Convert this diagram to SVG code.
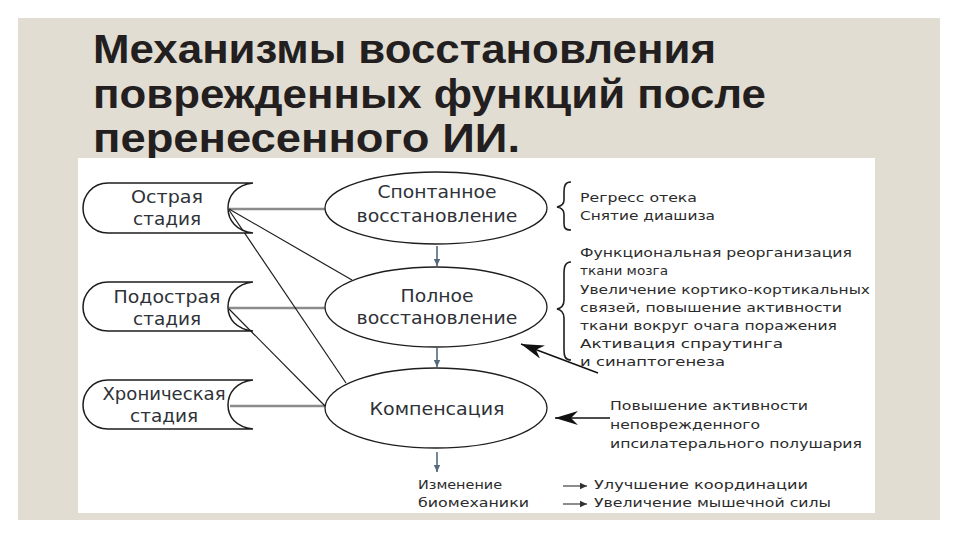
<svg xmlns="http://www.w3.org/2000/svg" width="960" height="540" viewBox="0 0 960 540">
<style>
.title{font-family:"Liberation Sans",Arial,sans-serif;font-weight:bold;font-size:41px;fill:#231f20}
.node{font-family:"DejaVu Sans","Liberation Sans",sans-serif;font-size:17px;fill:#2e3238;text-anchor:middle}
.note{font-family:"DejaVu Sans","Liberation Sans",sans-serif;font-size:12.5px;fill:#2b2b2b}
.stage{fill:#fff;stroke:#1e1e1e;stroke-width:1.5}
.ell{fill:#fff;stroke:#1e1e1e;stroke-width:1.3}
.hline{stroke:#8c8c8c;stroke-width:2.4;fill:none}
.dline{stroke:#1e1e1e;stroke-width:1.2;fill:none}
.down{stroke:#55697d;stroke-width:1.6;fill:none}
.big{stroke:#111;stroke-width:1.4;fill:none}
.brace{stroke:#1e1e1e;stroke-width:1.6;fill:none}
.small{stroke:#8c8c8c;stroke-width:2;fill:none}
</style>
<defs>
<marker id="mDown" markerUnits="userSpaceOnUse" markerWidth="8" markerHeight="8" refX="7" refY="4" orient="auto">
<path d="M0,0.8 L7,4 L0,7.2 z" fill="#55697d"/>
</marker>
<marker id="mBig" markerUnits="userSpaceOnUse" markerWidth="24" markerHeight="16" refX="23" refY="7" orient="auto">
<path d="M0,0 L23,7 L0,14 L7,7 z" fill="#111"/>
</marker>
<marker id="mSmall" markerUnits="userSpaceOnUse" markerWidth="8" markerHeight="8" refX="7" refY="4" orient="auto">
<path d="M0,0.8 L7,4 L0,7.2 z" fill="#333"/>
</marker>
</defs>
<rect width="960" height="540" fill="#fff"/>
<rect x="18" y="18" width="922" height="502" fill="#e2ddd3"/>
<g id="title">
<text class="title" x="93" y="63" textLength="623" lengthAdjust="spacingAndGlyphs">Механизмы восстановления</text>
<text class="title" x="93" y="108" textLength="673" lengthAdjust="spacingAndGlyphs">поврежденных функций после</text>
<text class="title" x="93" y="152" textLength="427" lengthAdjust="spacingAndGlyphs">перенесенного ИИ.</text>
</g>
<rect x="78" y="158" width="797" height="355" fill="#fff"/>
<g id="connectors">
<line class="hline" x1="229" y1="209" x2="325" y2="209"/>
<line class="hline" x1="229" y1="308" x2="325" y2="308"/>
<line class="hline" x1="230" y1="406" x2="325" y2="406"/>
<line class="dline" x1="229" y1="209" x2="352" y2="280"/>
<line class="dline" x1="229" y1="210" x2="346" y2="383"/>
<line class="dline" x1="229" y1="309" x2="325" y2="406"/>
<line class="down" x1="437" y1="246" x2="437" y2="266" marker-end="url(#mDown)"/>
<line class="down" x1="437" y1="348" x2="437" y2="367" marker-end="url(#mDown)"/>
<line class="down" x1="437" y1="452" x2="437" y2="472" marker-end="url(#mDown)"/>
<line class="big" x1="598" y1="373" x2="521" y2="344" marker-end="url(#mBig)"/>
<line class="big" x1="610" y1="418" x2="555" y2="418" marker-end="url(#mBig)"/>
<line class="small" x1="563" y1="486" x2="587" y2="486" marker-end="url(#mSmall)"/>
<line class="small" x1="563" y1="504" x2="587" y2="504" marker-end="url(#mSmall)"/>
</g>
<g id="stage-acute">
<path class="stage" d="M253,183 H108 C92,183 83,196 83,208 C83,220 92,233 108,233 H253 C236,231 228,220 228,208 C228,196 236,185 253,183 Z"/>
<text class="node" x="167" y="203" textLength="72" lengthAdjust="spacingAndGlyphs">Острая</text>
<text class="node" x="167" y="225" textLength="68" lengthAdjust="spacingAndGlyphs">стадия</text>
</g>
<g id="stage-subacute">
<path class="stage" d="M253,282 H108 C92,282 83,295 83,307 C83,319 92,331 108,331 H253 C236,329 228,319 228,307 C228,295 236,284 253,282 Z"/>
<text class="node" x="167" y="303" textLength="107" lengthAdjust="spacingAndGlyphs">Подострая</text>
<text class="node" x="167" y="325" textLength="68" lengthAdjust="spacingAndGlyphs">стадия</text>
</g>
<g id="stage-chronic">
<path class="stage" d="M253,380 H108 C92,380 83,393 83,405 C83,417 92,429 108,429 H253 C236,427 228,417 228,405 C228,393 236,382 253,380 Z"/>
<text class="node" x="164" y="400" textLength="123" lengthAdjust="spacingAndGlyphs">Хроническая</text>
<text class="node" x="164" y="422" textLength="68" lengthAdjust="spacingAndGlyphs">стадия</text>
</g>
<g id="spontaneous">
<ellipse class="ell" cx="436" cy="208" rx="111" ry="36"/>
<text class="node" x="437" y="198" textLength="119" lengthAdjust="spacingAndGlyphs">Спонтанное</text>
<text class="node" x="437" y="222" textLength="161" lengthAdjust="spacingAndGlyphs">восстановление</text>
</g>
<g id="full">
<ellipse class="ell" cx="436" cy="307" rx="111" ry="40"/>
<text class="node" x="437" y="302" textLength="73" lengthAdjust="spacingAndGlyphs">Полное</text>
<text class="node" x="437" y="324" textLength="161" lengthAdjust="spacingAndGlyphs">восстановление</text>
</g>
<g id="compensation">
<ellipse class="ell" cx="436" cy="408" rx="111" ry="40"/>
<text class="node" x="437" y="415" textLength="135" lengthAdjust="spacingAndGlyphs">Компенсация</text>
</g>
<g id="note-spontaneous">
<path class="brace" d="M571,182 C565,182 564,186 564,192 L564,200 C564,204 562,206 557,207 C562,208 564,210 564,214 L564,223 C564,228 565,230 571,230"/>
<text class="note" x="580" y="202" textLength="117" lengthAdjust="spacingAndGlyphs">Регресс отека</text>
<text class="note" x="580" y="220" textLength="135" lengthAdjust="spacingAndGlyphs">Снятие диашиза</text>
</g>
<g id="note-full">
<path class="brace" d="M571,262 C565,262 564,267 564,274 L564,300 C564,305 562,308 557,309 C562,310 564,313 564,318 L564,350 C564,356 565,360 571,360"/>
<text class="note" x="580" y="257" textLength="272" lengthAdjust="spacingAndGlyphs">Функциональная реорганизация</text>
<text class="note" x="580" y="275" textLength="88" lengthAdjust="spacingAndGlyphs">ткани мозга</text>
<text class="note" x="580" y="294" textLength="290" lengthAdjust="spacingAndGlyphs">Увеличение кортико-кортикальных</text>
<text class="note" x="580" y="312" textLength="262" lengthAdjust="spacingAndGlyphs">связей, повышение активности</text>
<text class="note" x="580" y="330" textLength="257" lengthAdjust="spacingAndGlyphs">ткани вокруг очага поражения</text>
<text class="note" x="580" y="348" textLength="203" lengthAdjust="spacingAndGlyphs">Активация спраутинга</text>
<text class="note" x="580" y="366" textLength="145" lengthAdjust="spacingAndGlyphs">и синаптогенеза</text>
</g>
<g id="note-compensation">
<text class="note" x="610" y="410" textLength="198" lengthAdjust="spacingAndGlyphs">Повышение активности</text>
<text class="note" x="610" y="429" textLength="150" lengthAdjust="spacingAndGlyphs">неповрежденного</text>
<text class="note" x="610" y="448" textLength="252" lengthAdjust="spacingAndGlyphs">ипсилатерального полушария</text>
</g>
<g id="biomechanics">
<text class="note" x="418" y="489" textLength="84" lengthAdjust="spacingAndGlyphs">Изменение</text>
<text class="note" x="418" y="507" textLength="111" lengthAdjust="spacingAndGlyphs">биомеханики</text>
</g>
<g id="outcomes">
<text class="note" x="594" y="489" textLength="214" lengthAdjust="spacingAndGlyphs">Улучшение координации</text>
<text class="note" x="594" y="507" textLength="237" lengthAdjust="spacingAndGlyphs">Увеличение мышечной силы</text>
</g>
</svg>
